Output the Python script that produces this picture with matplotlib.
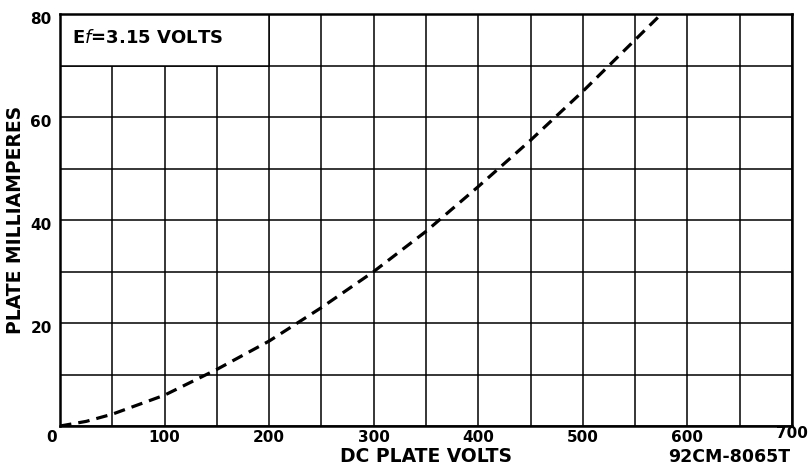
import matplotlib.pyplot as plt
import matplotlib.transforms as mtransforms
import matplotlib.patches as patches

# plate characteristic
plate_volts = [0, 25, 50, 100, 150, 200, 250, 300, 350, 400, 450, 500, 550, 575]
plate_ma = [0, 0.9, 2.3, 6.0, 11.0, 16.5, 23.0, 30.0, 37.8, 46.5, 55.5, 65.0, 75.0, 80.0]

x_ticks = [0, 100, 200, 300, 400, 500, 600, 700]
y_ticks = [20, 40, 60, 80]
x_grid = list(range(0, 701, 50))
y_grid = list(range(0, 81, 10))

fig = plt.figure(figsize=(8.1, 4.68), dpi=100)
ax = fig.add_axes([0.0741, 0.0897, 0.9037, 0.8803])
ax.set_xlim(0, 700)
ax.set_ylim(0, 80)

# grid drawn by hand so the label box can cover part of it
for gx in x_grid:
    ax.axvline(gx, color='black', linewidth=1.1, zorder=1)
for gy in y_grid:
    ax.axhline(gy, color='black', linewidth=1.1, zorder=1)

# white box behind the filament note
box = patches.Rectangle((0, 70), 200, 10, facecolor='white', edgecolor='black',
                        linewidth=1.1, zorder=2)
ax.add_patch(box)
ax.text(11, 75.3, r'E$\mathit{f}$=3.15 VOLTS', ha='left', va='center',
        fontsize=13, fontweight='bold', zorder=3)

ax.plot(plate_volts, plate_ma, color='black', linewidth=2.3,
        linestyle=(0, (3.6, 2.2)), zorder=4)

for side in ['left', 'right', 'top', 'bottom']:
    ax.spines[side].set_linewidth(1.8)
    ax.spines[side].set_zorder(5)

ax.set_xticks(x_ticks)
ax.set_xticklabels([str(v) for v in x_ticks])
ax.set_yticks(y_ticks)
ax.set_yticklabels([str(v) for v in y_ticks])
ax.tick_params(axis='both', length=0, labelsize=11)
ax.tick_params(axis='x', pad=3)
ax.tick_params(axis='y', pad=6)
for lab in ax.get_xticklabels() + ax.get_yticklabels():
    lab.set_fontweight('bold')

# nudge labels like the original lettering
down = mtransforms.ScaledTranslation(0, -4 / 100, fig.dpi_scale_trans)
for lab in ax.get_yticklabels():
    lab.set_transform(lab.get_transform() + down)
xl = ax.get_xticklabels()
xl[0].set_transform(xl[0].get_transform() +
                    mtransforms.ScaledTranslation(-8 / 100, 0, fig.dpi_scale_trans))
xl[-1].set_transform(xl[-1].get_transform() +
                     mtransforms.ScaledTranslation(0, 4 / 100, fig.dpi_scale_trans))

ax.set_ylabel('PLATE MILLIAMPERES', fontsize=13.5, fontweight='bold', labelpad=4)
fig.text(426 / 810, 1 - 457 / 468, 'DC PLATE VOLTS', ha='center', va='center',
         fontsize=13.5, fontweight='bold')
fig.text(729 / 810, 1 - 457 / 468, '92CM-8065T', ha='center', va='center',
         fontsize=12.5, fontweight='bold')

fig.savefig('out.png', dpi=100, facecolor='white')
